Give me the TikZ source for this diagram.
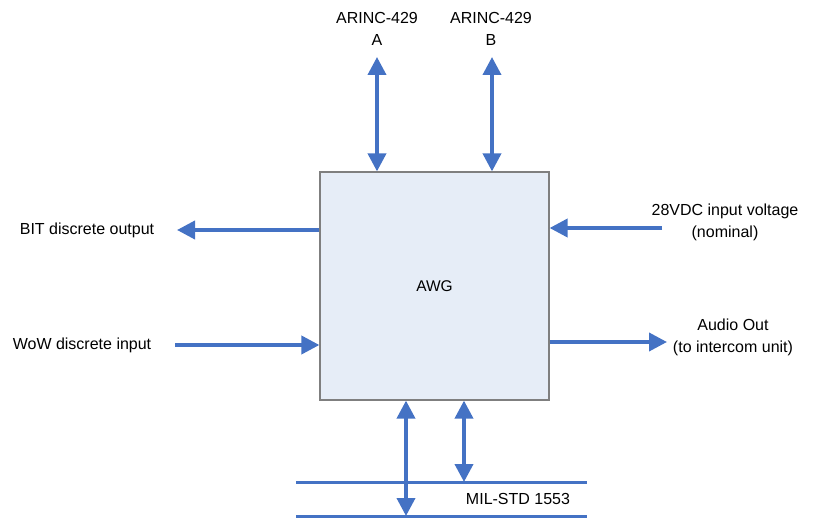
\documentclass[tikz,border=0pt]{standalone}
\usepackage{fontspec}
\setmainfont{Liberation Sans}
\usetikzlibrary{arrows.meta}
\definecolor{arrblue}{HTML}{4472C4}
\definecolor{boxfill}{HTML}{E6EDF7}
\definecolor{boxline}{HTML}{7F7F7F}
\begin{document}
\begin{tikzpicture}[x=1pt,y=-1pt,
  box/.style={draw=boxline,line width=1.2pt,fill=boxfill,minimum width=229pt,minimum height=228pt,inner sep=0pt,font=\fontsize{15.5}{18}\selectfont},
  lbl/.style={align=center,inner sep=0pt,font=\fontsize{16}{22}\selectfont},
  conn/.style={draw=arrblue,line width=3.8pt},
  onehead/.style={conn,-{Triangle[length=18pt,width=18pt]}},
  twohead/.style={conn,{Triangle[length=18pt,width=18pt]}-{Triangle[length=18pt,width=18pt]}},
  bus/.style={draw=arrblue,line width=3pt}]
\useasboundingbox (0,0) rectangle (819,518);
\node[box] (awg) at (434.5,286) {AWG};
% top labels
\node[lbl] (la) at (377,29) {ARINC-429\\A};
\node[lbl] (lb) at (491,29) {ARINC-429\\B};
\coordinate (ta) at (377,57);
\coordinate (tb) at (492,57);
\draw[twohead] (ta) -- (ta |- awg.north);
\draw[twohead] (tb) -- (tb |- awg.north);
% left
\node[lbl] (lbit) at (87,230) {BIT discrete output};
\node[lbl] (lwow) at (82,345) {WoW discrete input};
\coordinate (bitend) at (177,230);
\coordinate (wowstart) at (175,345);
\draw[onehead] (bitend -| awg.west) -- (bitend);
\draw[onehead] (wowstart) -- (wowstart -| awg.west);
% right
\node[lbl] (lvdc) at (725,222) {28VDC input voltage\\(nominal)};
\node[lbl] (laud) at (733,337) {Audio Out\\(to intercom unit)};
\coordinate (vdcstart) at (662,228);
\coordinate (audend) at (667,342);
\draw[onehead] (vdcstart) -- (vdcstart -| awg.east);
\draw[onehead] (audend -| awg.east) -- (audend);
% bottom bus
\coordinate (b1l) at (296,482);
\coordinate (b1r) at (587,482);
\coordinate (b2l) at (296,516);
\coordinate (b2r) at (587,516);
\draw[bus] (b1l) -- (b1r);
\draw[bus] (b2l) -- (b2r);
\node[lbl] (lmil) at (518,499) {MIL-STD 1553};
\coordinate (m1) at (406,516);
\coordinate (m2) at (464,482);
\draw[twohead] (m1 |- awg.south) -- (m1);
\draw[twohead] (m2 |- awg.south) -- (m2);
\end{tikzpicture}
\end{document}
